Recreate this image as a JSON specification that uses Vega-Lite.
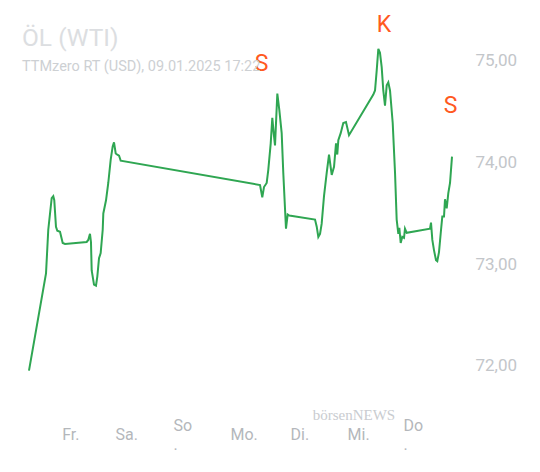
{
  "$schema": "https://vega.github.io/schema/vega-lite/v6.json",
  "autosize": {"type": "none"},
  "padding": {"left": 0, "top": 0, "right": 0, "bottom": 62},
  "width": 540,
  "height": 410,
  "background": "white",
  "config": {"view": {"stroke": null}, "font": "Roboto"},
  "title": {
    "text": "ÖL (WTI)",
    "subtitle": "TTMzero RT (USD), 09.01.2025 17:22",
    "anchor": "start",
    "frame": "group",
    "orient": "top",
    "offset": 0,
    "dx": 22,
    "dy": 74,
    "font": "Roboto",
    "fontSize": 24.5,
    "fontWeight": "normal",
    "color": "#dcdee1",
    "subtitleFont": "Roboto",
    "subtitleFontSize": 14.5,
    "subtitleColor": "#cdd0d3",
    "subtitlePadding": 8
  },
  "datasets": {
    "prices": [
      {"t": -0.708, "v": 71.955}, {"t": -0.399, "v": 72.91}, {"t": -0.358, "v": 73.34}, {"t": -0.296, "v": 73.65},
      {"t": -0.267, "v": 73.67}, {"t": -0.249, "v": 73.63}, {"t": -0.218, "v": 73.37}, {"t": -0.194, "v": 73.33},
      {"t": -0.145, "v": 73.32}, {"t": -0.096, "v": 73.21}, {"t": -0.054, "v": 73.2}, {"t": 0.339, "v": 73.22},
      {"t": 0.368, "v": 73.24}, {"t": 0.399, "v": 73.3}, {"t": 0.417, "v": 73.22}, {"t": 0.43, "v": 72.94},
      {"t": 0.472, "v": 72.8}, {"t": 0.508, "v": 72.79}, {"t": 0.532, "v": 72.88}, {"t": 0.563, "v": 73.06},
      {"t": 0.593, "v": 73.11}, {"t": 0.63, "v": 73.34}, {"t": 0.641, "v": 73.5}, {"t": 0.69, "v": 73.63},
      {"t": 0.731, "v": 73.8}, {"t": 0.775, "v": 74.03}, {"t": 0.811, "v": 74.16}, {"t": 0.835, "v": 74.2},
      {"t": 0.866, "v": 74.09}, {"t": 0.895, "v": 74.08}, {"t": 0.926, "v": 74.07}, {"t": 0.956, "v": 74.02},
      {"t": 3.485, "v": 73.78}, {"t": 3.526, "v": 73.66}, {"t": 3.557, "v": 73.76}, {"t": 3.606, "v": 73.8},
      {"t": 3.635, "v": 73.93}, {"t": 3.679, "v": 74.19}, {"t": 3.708, "v": 74.44}, {"t": 3.733, "v": 74.29},
      {"t": 3.757, "v": 74.17}, {"t": 3.799, "v": 74.68}, {"t": 3.835, "v": 74.52}, {"t": 3.878, "v": 74.29},
      {"t": 3.907, "v": 73.9}, {"t": 3.956, "v": 73.35}, {"t": 3.987, "v": 73.49}, {"t": 4.016, "v": 73.48},
      {"t": 4.483, "v": 73.44}, {"t": 4.514, "v": 73.37}, {"t": 4.543, "v": 73.27}, {"t": 4.574, "v": 73.3},
      {"t": 4.604, "v": 73.4}, {"t": 4.646, "v": 73.67}, {"t": 4.695, "v": 73.9}, {"t": 4.737, "v": 74.08},
      {"t": 4.786, "v": 73.88}, {"t": 4.828, "v": 73.96}, {"t": 4.864, "v": 74.19}, {"t": 4.887, "v": 74.08},
      {"t": 4.906, "v": 74.22}, {"t": 4.949, "v": 74.29}, {"t": 4.996, "v": 74.39}, {"t": 5.045, "v": 74.4},
      {"t": 5.1, "v": 74.27}, {"t": 5.541, "v": 74.67}, {"t": 5.572, "v": 74.71}, {"t": 5.603, "v": 74.91},
      {"t": 5.632, "v": 75.12}, {"t": 5.662, "v": 75.08}, {"t": 5.693, "v": 74.94}, {"t": 5.722, "v": 74.71},
      {"t": 5.753, "v": 74.56}, {"t": 5.784, "v": 74.76}, {"t": 5.813, "v": 74.79}, {"t": 5.844, "v": 74.71},
      {"t": 5.893, "v": 74.39}, {"t": 5.935, "v": 73.9}, {"t": 5.965, "v": 73.44}, {"t": 5.995, "v": 73.3},
      {"t": 6.013, "v": 73.36}, {"t": 6.038, "v": 73.21}, {"t": 6.067, "v": 73.27}, {"t": 6.098, "v": 73.26},
      {"t": 6.116, "v": 73.35}, {"t": 6.147, "v": 73.31}, {"t": 6.57, "v": 73.35}, {"t": 6.588, "v": 73.41},
      {"t": 6.612, "v": 73.24}, {"t": 6.642, "v": 73.14}, {"t": 6.679, "v": 73.04}, {"t": 6.702, "v": 73.03},
      {"t": 6.733, "v": 73.12}, {"t": 6.77, "v": 73.34}, {"t": 6.793, "v": 73.47}, {"t": 6.824, "v": 73.47},
      {"t": 6.842, "v": 73.64}, {"t": 6.873, "v": 73.55}, {"t": 6.902, "v": 73.7}, {"t": 6.933, "v": 73.8},
      {"t": 6.969, "v": 74.06}
    ],
    "signals": [
      {"t": 3.512, "v": 74.966, "label": "S"},
      {"t": 5.735, "v": 75.35, "label": "K"},
      {"t": 6.942, "v": 74.56, "label": "S"}
    ],
    "brand": [
      {"t": 5.19, "v": 71.518, "label": "börsenNEWS"}
    ]
  },
  "layer": [
    {
      "data": {"name": "prices"},
      "mark": {"type": "line", "color": "#2fa652", "strokeWidth": 2, "interpolate": "linear"},
      "encoding": {
        "x": {
          "field": "t", "type": "quantitative",
          "scale": {"domain": [-1.234, 8.566], "nice": false, "zero": false},
          "axis": {
            "orient": "bottom", "values": [-0.114, 0.853, 1.906, 2.94, 4.029, 5.064, 6.08], "title": null,
            "grid": false, "domain": false, "ticks": false, "tickSize": 0,
            "labelPadding": {"condition": {"test": "(datum.value > 1.5 && datum.value < 2.5) || datum.value > 5.5", "value": 15.5}, "value": 24.5},
            "labelBaseline": "middle", "labelAlign": "left",
            "labelFont": "Roboto", "labelFontSize": 16, "labelColor": "#b4b7bb",
            "labelLineHeight": 19, "labelOverlap": false, "labelFlush": false,
            "labelExpr": "datum.value < 0.5 ? 'Fr.' : datum.value < 1.5 ? 'Sa.' : datum.value < 2.5 ? ['So','.'] : datum.value < 3.5 ? 'Mo.' : datum.value < 4.5 ? 'Di.' : datum.value < 5.5 ? 'Mi.' : ['Do','.']"
          }
        },
        "y": {
          "field": "v", "type": "quantitative",
          "scale": {"domain": [71.567, 75.6], "nice": false, "zero": false},
          "axis": {
            "orient": "right", "offset": -65, "values": [72, 73, 74, 75], "title": null,
            "grid": false, "domain": false, "ticks": false, "tickSize": 0,
            "labelPadding": 0, "labelAlign": "left", "labelBaseline": "middle",
            "labelFont": "Roboto", "labelFontSize": 17, "labelColor": "#c3c6ca",
            "labelExpr": "replace(format(datum.value, '.2f'), '.', ',')"
          }
        }
      }
    },
    {
      "data": {"name": "signals"},
      "mark": {"type": "text", "font": "Roboto", "fontSize": 23, "color": "#ff5a1f", "baseline": "middle", "align": "center"},
      "encoding": {
        "x": {"field": "t", "type": "quantitative"},
        "y": {"field": "v", "type": "quantitative"},
        "text": {"field": "label"}
      }
    },
    {
      "data": {"name": "brand"},
      "mark": {"type": "text", "font": "Liberation Serif", "fontSize": 15, "color": "#c9ccd0", "baseline": "middle", "align": "center"},
      "encoding": {
        "x": {"field": "t", "type": "quantitative"},
        "y": {"field": "v", "type": "quantitative"},
        "text": {"field": "label"}
      }
    }
  ]
}
